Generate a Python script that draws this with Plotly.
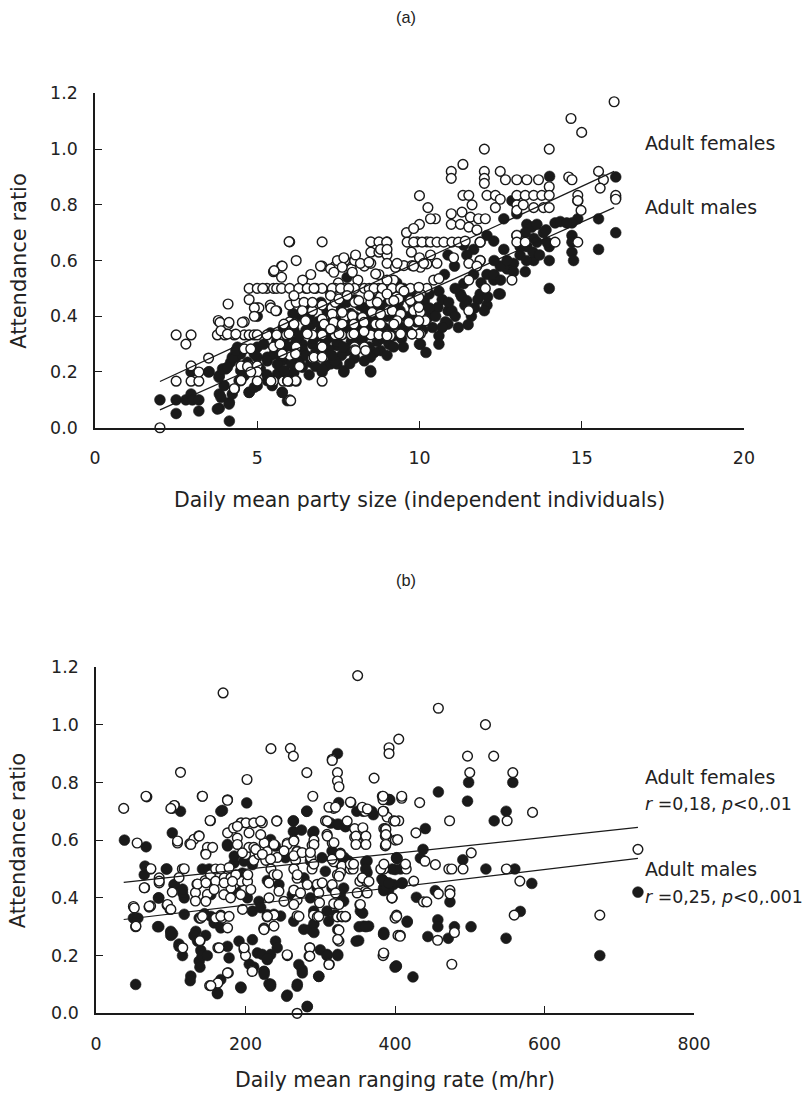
import plotly.graph_objects as go

# ---------------- (a) party size vs attendance ratio ----------------
party_females = [
    (2.0, 0.0), (2.5, 0.333), (2.8, 0.30), (2.96, 0.333), (2.5, 0.167), (2.96, 0.167), (3.2, 0.167),
    (2.96, 0.222), (3.2, 0.2), (3.5, 0.25), (3.8, 0.385), (3.77, 0.333), (4.0, 0.333), (4.29, 0.333),
    (4.6, 0.333), (4.75, 0.333), (4.1, 0.444), (4.1, 0.37), (4.6, 0.38), (4.75, 0.5), (5.0, 0.5),
    (5.05, 0.43), (4.9, 0.333), (5.0, 0.333), (4.5, 0.222), (4.75, 0.222), (5.0, 0.222), (5.0, 0.2),
    (4.3, 0.14), (4.5, 0.17), (5.0, 0.167), (5.3, 0.5), (5.5, 0.5), (5.6, 0.5), (5.75, 0.5), (6.0, 0.5),
    (5.5, 0.56), (5.75, 0.58), (5.75, 0.54), (6.0, 0.667), (6.2, 0.6), (5.4, 0.44), (5.6, 0.42),
    (6.0, 0.44), (6.2, 0.45), (5.3, 0.333), (5.6, 0.333), (5.9, 0.333), (6.0, 0.38), (5.5, 0.29),
    (5.5, 0.167), (5.8, 0.167), (6.0, 0.167), (6.2, 0.167), (6.0, 0.1), (5.7, 0.3), (6.0, 0.26),
    (6.2, 0.29), (6.3, 0.22), (6.5, 0.5), (6.8, 0.5), (7.0, 0.5), (6.4, 0.53), (6.65, 0.55), (7.0, 0.58),
    (7.0, 0.667), (6.7, 0.42), (7.0, 0.44), (7.3, 0.43), (7.0, 0.39), (6.7, 0.333), (7.0, 0.333),
    (7.0, 0.29), (6.7, 0.25), (7.0, 0.167), (7.4, 0.58), (7.5, 0.52), (7.4, 0.5), (7.7, 0.6), (7.9, 0.57),
    (8.0, 0.6), (8.1, 0.53), (8.3, 0.58), (7.7, 0.5), (8.0, 0.5), (8.3, 0.5), (7.4, 0.45), (7.7, 0.4),
    (8.0, 0.45), (7.4, 0.333), (7.6, 0.333), (7.9, 0.333), (8.0, 0.29), (8.3, 0.29), (8.5, 0.667),
    (8.75, 0.667), (9.0, 0.667), (8.5, 0.63), (8.75, 0.63), (9.0, 0.62), (8.5, 0.59), (8.75, 0.55),
    (9.0, 0.59), (8.45, 0.5), (8.75, 0.5), (9.0, 0.5), (8.5, 0.45), (8.8, 0.47), (9.05, 0.42),
    (8.5, 0.333), (8.75, 0.333), (9.0, 0.333), (8.0, 0.28), (9.2, 0.53), (9.3, 0.47),
    (9.93, 0.667), (10.23, 0.667), (9.75, 0.63), (10.0, 0.61), (6.95, 0.58), (7.26, 0.57), (7.47, 0.6),
    (7.67, 0.61), (8.03, 0.62), (8.18, 0.59), (7.36, 0.558), (7.62, 0.576), (7.93, 0.558), (8.44, 0.594),
    (8.65, 0.552), (9.26, 0.576), (9.52, 0.582), (9.77, 0.582), (10.03, 0.576), (10.23, 0.588),
    (6.28, 0.5), (6.54, 0.5), (6.75, 0.5), (7.31, 0.5), (7.57, 0.5), (7.82, 0.5), (8.6, 0.5), (8.85, 0.5),
    (9.16, 0.5), (9.42, 0.5), (9.72, 0.5), (10.03, 0.5), (10.23, 0.5),
    (6.13, 0.474), (6.44, 0.45), (6.7, 0.45), (7.26, 0.474), (7.52, 0.462), (7.77, 0.474), (8.13, 0.456),
    (8.44, 0.474), (8.7, 0.45), (9.1, 0.456), (9.36, 0.462), (9.72, 0.456), (10.03, 0.48),
    (6.39, 0.42), (7.31, 0.408), (7.62, 0.414), (7.93, 0.402), (8.24, 0.396), (8.54, 0.414), (8.8, 0.408),
    (9.16, 0.42), (9.42, 0.408), (9.82, 0.42), (10.03, 0.414),
    (5.82, 0.372), (6.13, 0.372), (6.49, 0.384), (7.06, 0.372), (7.36, 0.378), (7.62, 0.372), (7.98, 0.372),
    (8.29, 0.378), (8.65, 0.372), (9.31, 0.384), (9.67, 0.378), (9.98, 0.384), (10.18, 0.384),
    (5.98, 0.337), (6.54, 0.337), (7.26, 0.354), (7.52, 0.337), (7.98, 0.337), (8.29, 0.345), (9.1, 0.33),
    (9.42, 0.337), (9.77, 0.337), (10.03, 0.337),
    (5.77, 0.265), (6.18, 0.265), (6.75, 0.253), (7.0, 0.253), (8.03, 0.277), (8.34, 0.277), (5.93, 0.169),
    (6.18, 0.169), (6.03, 0.097),
    (16.0, 1.17), (14.67, 1.11), (15.0, 1.06), (12.0, 1.0), (14.0, 1.0), (11.34, 0.945), (10.98, 0.92),
    (10.98, 0.895), (12.0, 0.92), (12.0, 0.895), (12.0, 0.877), (12.49, 0.92), (12.65, 0.89), (13.0, 0.89),
    (13.31, 0.89), (13.67, 0.89), (14.0, 0.865), (14.6, 0.9), (14.7, 0.89), (15.52, 0.92), (15.67, 0.89),
    (15.57, 0.86), (10.0, 0.833), (10.26, 0.79), (10.49, 0.75), (10.34, 0.75), (10.0, 0.73), (9.6, 0.7),
    (9.82, 0.715), (11.34, 0.834), (11.52, 0.834), (11.62, 0.8), (12.08, 0.834), (12.34, 0.834),
    (12.49, 0.82), (13.0, 0.834), (13.26, 0.834), (13.52, 0.834), (13.77, 0.834), (14.0, 0.834),
    (12.34, 0.79), (13.0, 0.8), (13.0, 0.78), (13.2, 0.8), (13.52, 0.79), (13.82, 0.79), (14.0, 0.79),
    (14.88, 0.834), (14.88, 0.815), (14.98, 0.78), (16.05, 0.834), (16.05, 0.82),
    (10.98, 0.768), (11.31, 0.774), (11.57, 0.756), (11.82, 0.75), (12.03, 0.75), (10.98, 0.73),
    (11.26, 0.73), (11.52, 0.72), (11.77, 0.71),
    (9.62, 0.666), (9.82, 0.666), (10.08, 0.666), (10.34, 0.666), (10.54, 0.666), (10.75, 0.666),
    (11.0, 0.666), (11.2, 0.666), (11.41, 0.67), (11.87, 0.666), (13.0, 0.69), (13.0, 0.666),
    (13.26, 0.666), (14.18, 0.666), (14.88, 0.666), (8.99, 0.666), (8.8, 0.64), (9.0, 0.64),
    (10.34, 0.62), (10.54, 0.59), (11.05, 0.61), (11.52, 0.59), (11.87, 0.6), (9.31, 0.59), (9.82, 0.58),
    (10.13, 0.59), (9.98, 0.504), (9.98, 0.468), (9.98, 0.432), (9.98, 0.384), (9.98, 0.336),
    (9.0, 0.53), (9.0, 0.48), (9.21, 0.456), (9.52, 0.49), (10.44, 0.53), (10.6, 0.535), (11.52, 0.53),
    (11.77, 0.58), (12.85, 0.53), (12.03, 0.5), (11.52, 0.42), (9.77, 0.336), (9.21, 0.372),
    (8.8, 0.372), (9.0, 0.33),
    (3.85, 0.378), (4.13, 0.378), (4.54, 0.378), (3.88, 0.348), (4.08, 0.336), (4.34, 0.336),
    (4.75, 0.46), (4.91, 0.43), (4.91, 0.4), (5.42, 0.43), (5.57, 0.42), (5.77, 0.58), (5.52, 0.564),
    (5.98, 0.668), (5.17, 0.5), (4.6, 0.283), (4.8, 0.283), (4.7, 0.22), (4.8, 0.2), (4.29, 0.14),
    (5.42, 0.167), (5.94, 0.167),
]

party_males = [
    (2.0, 0.1), (2.5, 0.1), (2.8, 0.1), (2.96, 0.121), (3.0, 0.1), (3.2, 0.1), (2.5, 0.051), (3.2, 0.06),
    (2.96, 0.2), (3.5, 0.2), (3.83, 0.187), (4.03, 0.211), (4.18, 0.235), (4.34, 0.253), (4.39, 0.289),
    (3.83, 0.121), (4.14, 0.091), (3.83, 0.07), (4.14, 0.024), (3.98, 0.151), (4.44, 0.169),
    (4.75, 0.127), (5.0, 0.151), (4.49, 0.265), (5.0, 0.289), (5.0, 0.253), (4.7, 0.235), (5.0, 0.43),
    (5.0, 0.4), (5.31, 0.253), (5.52, 0.265), (5.77, 0.241), (5.93, 0.277), (5.62, 0.193), (5.77, 0.127),
    (5.93, 0.097), (5.31, 0.169), (5.46, 0.151), (5.83, 0.2), (6.13, 0.2), (6.39, 0.217), (6.65, 0.235),
    (6.9, 0.259), (5.93, 0.33), (6.39, 0.3), (6.13, 0.35), (7.0, 0.2), (7.26, 0.229), (7.46, 0.229),
    (7.67, 0.2), (6.65, 0.37), (6.96, 0.35), (7.21, 0.325), (7.46, 0.295), (7.77, 0.277), (7.77, 0.54),
    (7.57, 0.385), (7.88, 0.41), (8.19, 0.36), (8.39, 0.385), (8.6, 0.337), (8.8, 0.325), (8.5, 0.2),
    (8.8, 0.277), (9.06, 0.3), (8.0, 0.46), (8.3, 0.43), (8.6, 0.46), (6.34, 0.4), (6.65, 0.43),
    (6.96, 0.45), (7.26, 0.48),
    (6.2, 0.31), (6.4, 0.28), (6.5, 0.35), (6.7, 0.3), (6.8, 0.27), (6.9, 0.33), (7.0, 0.36), (7.1, 0.31),
    (7.2, 0.28), (7.3, 0.38), (7.4, 0.33), (7.5, 0.3), (7.6, 0.26), (7.7, 0.34), (7.8, 0.37), (7.9, 0.31),
    (8.0, 0.4), (8.1, 0.33), (8.2, 0.3), (8.3, 0.37), (8.4, 0.42), (8.5, 0.35), (8.6, 0.39), (8.7, 0.31),
    (8.8, 0.44), (8.9, 0.36), (9.0, 0.4), (9.1, 0.45), (9.2, 0.33), (9.3, 0.38), (9.4, 0.42), (9.5, 0.36),
    (9.6, 0.47), (9.7, 0.4), (9.8, 0.44), (9.9, 0.38), (9.2, 0.29), (8.6, 0.27), (8.0, 0.25), (7.4, 0.24),
    (6.8, 0.22), (6.3, 0.24), (6.1, 0.19), (7.1, 0.22), (8.49, 0.205), (8.49, 0.253), (7.0, 0.21),
    (7.67, 0.205), (10.03, 0.3),
    (14.01, 0.902), (16.05, 0.9), (16.05, 0.826), (16.05, 0.7), (15.52, 0.75), (15.52, 0.64),
    (14.88, 0.815), (14.88, 0.75), (14.7, 0.735), (14.7, 0.69), (14.7, 0.666), (14.7, 0.63), (14.75, 0.6),
    (14.18, 0.735), (14.0, 0.65), (14.0, 0.6), (14.0, 0.5), (12.85, 0.815), (13.0, 0.768), (13.31, 0.73),
    (13.46, 0.72), (13.62, 0.73), (13.0, 0.69), (13.26, 0.7), (13.52, 0.68), (13.62, 0.666),
    (13.82, 0.7), (13.93, 0.666), (13.31, 0.65), (13.52, 0.6), (13.26, 0.56), (12.9, 0.59), (12.7, 0.57),
    (12.49, 0.58), (12.44, 0.48), (12.6, 0.75), (12.29, 0.67), (12.08, 0.69), (11.87, 0.666),
    (11.67, 0.64), (11.36, 0.655), (11.46, 0.62), (11.87, 0.6), (12.08, 0.55), (12.29, 0.53),
    (10.88, 0.62), (10.77, 0.55), (11.08, 0.58), (11.36, 0.517), (11.67, 0.55), (11.87, 0.48),
    (12.08, 0.44), (12.49, 0.48), (10.88, 0.42), (10.88, 0.372), (10.57, 0.432), (10.26, 0.396),
    (10.36, 0.408), (10.05, 0.396), (10.15, 0.456), (10.6, 0.49), (11.26, 0.48), (11.46, 0.456),
    (10.0, 0.3), (14.34, 0.74), (14.54, 0.735),
    (10.2, 0.4), (10.4, 0.36), (10.6, 0.33), (10.8, 0.38), (11.0, 0.42), (11.2, 0.36), (11.4, 0.44),
    (11.6, 0.4), (11.8, 0.46), (12.0, 0.42), (10.7, 0.46), (11.1, 0.5), (10.3, 0.48), (9.5, 0.5),
    (9.3, 0.52), (12.3, 0.6), (12.6, 0.64), (13.1, 0.62),
    (3.52, 0.201), (3.82, 0.181), (3.93, 0.211), (4.08, 0.217), (4.23, 0.253), (4.34, 0.277),
    (4.49, 0.205), (4.6, 0.187), (3.88, 0.109), (4.13, 0.085), (3.77, 0.067), (4.23, 0.121),
    (4.75, 0.127), (4.49, 0.169), (4.91, 0.145), (4.91, 0.265), (5.31, 0.24), (5.62, 0.228),
    (5.83, 0.205), (5.42, 0.169), (5.77, 0.127), (5.94, 0.253), (5.83, 0.3),
    (5.2, 0.30), (5.4, 0.34), (5.6, 0.31), (5.8, 0.36), (6.0, 0.29), (6.1, 0.41), (6.3, 0.33), (6.5, 0.26),
    (6.6, 0.40), (6.75, 0.32), (6.85, 0.38), (7.05, 0.27), (7.15, 0.42), (7.35, 0.35), (7.45, 0.31),
    (7.55, 0.43), (7.65, 0.29), (7.75, 0.45), (7.85, 0.35), (7.95, 0.29), (8.05, 0.37), (8.15, 0.44),
    (8.25, 0.32), (8.35, 0.40), (8.45, 0.29), (8.55, 0.43), (8.65, 0.36), (8.75, 0.40), (8.85, 0.32),
    (8.95, 0.47), (9.05, 0.35), (9.15, 0.41), (9.25, 0.37), (9.35, 0.45), (9.45, 0.32), (9.55, 0.40),
    (9.65, 0.35), (9.75, 0.49), (9.85, 0.41), (9.95, 0.45), (10.1, 0.35), (10.3, 0.43), (10.5, 0.40),
    (10.7, 0.36), (10.9, 0.45), (11.1, 0.40), (11.3, 0.47), (11.5, 0.37), (11.7, 0.43), (11.9, 0.52),
    (12.1, 0.47), (12.3, 0.55), (12.5, 0.53), (12.7, 0.60), (12.9, 0.56), (13.1, 0.65), (13.3, 0.60),
    (13.5, 0.63), (13.7, 0.62), (13.9, 0.71), (5.1, 0.21), (5.3, 0.19), (5.7, 0.26), (6.05, 0.23),
    (6.6, 0.19), (7.3, 0.26), (7.85, 0.23), (8.3, 0.24), (9.0, 0.26), (9.5, 0.29), (10.2, 0.27),
    (10.6, 0.30),
]

# least-squares lines drawn over panel (a)
party_fit_x = [2.0, 16.0]
party_fit_females = [0.166, 0.92]
party_fit_males = [0.064, 0.79]

# ---------------- (b) ranging rate vs attendance ratio ----------------
ranging_females = [
    (37, 0.71), (50, 0.37), (53, 0.30), (55, 0.59), (68, 0.75), (65, 0.435), (73, 0.50), (84.5, 0.469),
    (84.5, 0.452), (71, 0.368), (73, 0.372), (95, 0.375), (99, 0.36), (105, 0.72), (109, 0.59),
    (102, 0.71), (113, 0.835), (115.5, 0.50), (111, 0.47), (102, 0.42), (116, 0.227), (125.5, 0.588),
    (131, 0.603), (137.6, 0.615), (135, 0.447), (133, 0.418), (133, 0.389), (139, 0.25), (140, 0.33),
    (142, 0.752), (147, 0.555), (149, 0.575), (156, 0.575), (153, 0.667), (146, 0.46), (153, 0.48),
    (160, 0.50), (167, 0.50), (160, 0.458), (149, 0.412), (167, 0.34), (160, 0.33), (152, 0.096),
    (163, 0.105), (177, 0.14), (163, 0.227), (170, 1.11), (176, 0.74), (176, 0.625), (184, 0.642),
    (189, 0.607), (194, 0.66), (200.6, 0.66), (171.5, 0.469), (180.4, 0.469), (184.9, 0.446),
    (180.4, 0.434), (193.8, 0.457), (202.7, 0.457), (178, 0.505), (187, 0.48), (203, 0.48), (169, 0.33),
    (176, 0.296), (196, 0.36), (200, 0.55), (204.5, 0.575), (211, 0.575), (202, 0.81), (211, 0.66),
    (222.5, 0.66), (198, 0.22), (209, 0.147), (200, 0.2), (211, 0.53), (218, 0.55), (225, 0.59),
    (229, 0.56), (227, 0.53), (234, 0.50), (238, 0.48), (242.5, 0.54), (234, 0.917), (242, 0.667),
    (238, 0.34), (229, 0.334), (225, 0.293), (260, 0.918), (264, 0.891), (256, 0.20), (256, 0.59),
    (264.6, 0.60), (269, 0.56), (267, 0.53), (264.6, 0.50), (269, 0.468), (264.6, 0.427), (269, 0.392),
    (269, 0.338), (269, 0.0), (282, 0.834), (286, 0.227), (285, 0.198), (290, 0.752), (289, 0.582),
    (291.5, 0.60), (289, 0.50), (287, 0.54), (296, 0.447), (299, 0.383), (291, 0.34), (296, 0.334),
    (307, 0.667), (318, 0.71), (309, 0.62), (316, 0.59), (312, 0.17), (316, 0.88), (323, 0.834),
    (323, 0.805), (325, 0.785), (318, 0.525), (323, 0.48), (327, 0.555), (329, 0.51), (327, 0.487),
    (323, 0.334), (329, 0.334), (334, 0.334), (318, 0.38), (325, 0.25), (325, 0.288), (341, 0.73),
    (340, 0.50), (346, 0.64), (346, 0.61), (357, 0.643), (360, 0.61), (350, 1.17), (353, 0.457),
    (344, 0.50), (353, 0.376), (356, 0.71), (360, 0.70), (362, 0.457), (360, 0.422), (372, 0.815),
    (383, 0.752), (385, 0.70), (385, 0.64), (389.5, 0.61), (389.5, 0.68), (385, 0.50), (396, 0.40),
    (385, 0.207), (392, 0.92), (392, 0.90), (400, 0.33), (404, 0.27), (405, 0.95),
    (458, 1.057), (521, 1.0), (497, 0.891), (532, 0.891), (500, 0.834), (557.6, 0.834), (384, 0.74),
    (409, 0.745), (433, 0.73), (384, 0.70), (398, 0.667), (405, 0.667), (387, 0.64), (387, 0.615),
    (400.5, 0.60), (428, 0.625), (473, 0.667), (550, 0.667), (584, 0.696), (502, 0.556), (725, 0.568),
    (387, 0.58), (381, 0.50), (415, 0.50), (425, 0.458), (440, 0.527), (454, 0.515), (472, 0.50),
    (476, 0.50), (491, 0.50), (549, 0.50), (567, 0.458), (396, 0.40), (438, 0.386), (442.5, 0.386),
    (458, 0.414), (473.5, 0.426), (473.5, 0.414), (402, 0.34), (407, 0.27), (457, 0.253), (479.5, 0.28),
    (559.5, 0.34), (384, 0.20), (476, 0.17), (674, 0.34),
    (109, 0.597), (126.8, 0.585), (138, 0.614), (146.9, 0.551), (189.1, 0.648), (189.1, 0.585),
    (204.7, 0.625), (220.3, 0.619), (213.6, 0.568), (195.8, 0.556), (73.4, 0.501), (84.5, 0.458),
    (64.5, 0.435), (118, 0.501), (135.8, 0.448), (147, 0.452), (171.4, 0.452), (182.5, 0.457),
    (51.2, 0.365), (53.4, 0.302), (71.2, 0.371), (95.6, 0.377), (100.1, 0.36), (158, 0.429),
    (171, 0.411), (180, 0.40), (193.6, 0.411), (207, 0.429), (146.9, 0.388), (166.9, 0.336),
    (178, 0.336), (142.4, 0.336), (164.7, 0.227), (198, 0.227), (175.8, 0.14), (153.6, 0.096),
    (138.9, 0.252), (224.7, 0.29), (209, 0.145), (66.8, 0.752), (142.4, 0.752), (175.8, 0.738),
    (104.6, 0.72), (100.1, 0.71), (152.6, 0.668),
    (316, 0.876), (340.4, 0.732), (311.6, 0.714), (320.5, 0.714), (356.2, 0.714), (363, 0.708),
    (384, 0.752), (409, 0.752), (309.4, 0.666), (336, 0.666), (400, 0.666), (220.3, 0.666),
    (241.7, 0.666), (347.7, 0.614), (361, 0.614), (347.7, 0.585), (361, 0.585), (387.8, 0.637),
    (387.8, 0.619), (387.8, 0.585), (403.4, 0.602), (291.5, 0.585), (309.4, 0.614), (318.3, 0.591),
    (255.7, 0.585), (264.6, 0.597), (238, 0.585), (222.5, 0.551), (233.6, 0.534), (251.4, 0.563),
    (264.6, 0.546), (275.7, 0.557), (286.8, 0.557), (291.3, 0.517), (315.7, 0.534), (326.8, 0.551),
    (340.1, 0.517), (344.6, 0.517), (356.2, 0.469), (365.1, 0.457), (385.1, 0.517), (414, 0.517),
    (242.6, 0.48), (269.3, 0.48), (282.6, 0.446), (302.6, 0.452), (316, 0.446), (325, 0.475),
    (231.4, 0.452), (244.7, 0.423), (273.6, 0.417), (298, 0.417), (320.5, 0.417), (349.4, 0.417),
    (362.8, 0.417), (231.4, 0.40), (251.4, 0.388), (264.6, 0.377), (353.6, 0.377), (395.9, 0.40),
    (325, 0.377), (229.2, 0.336), (238, 0.302), (271.5, 0.336), (298, 0.336), (329, 0.336),
    (333.5, 0.336), (402.3, 0.336), (406.8, 0.267), (323.3, 0.256), (255.7, 0.203), (286, 0.227),
    (286, 0.198), (311.6, 0.169), (384.7, 0.209),
]

ranging_males = [
    (53, 0.10), (38, 0.60), (67, 0.577), (64.5, 0.48), (50, 0.33), (56, 0.33), (94, 0.50), (84, 0.40),
    (84, 0.30), (100, 0.284), (111, 0.232), (100, 0.27), (113, 0.70), (102, 0.625), (104.6, 0.446),
    (118, 0.40), (115.7, 0.418), (118, 0.343), (133.5, 0.284), (135.8, 0.25), (140.2, 0.218),
    (138, 0.181), (126.8, 0.129), (142.4, 0.50), (151.3, 0.50), (158, 0.458), (153.6, 0.411),
    (153.6, 0.336), (158, 0.313), (166.9, 0.296), (175.8, 0.232), (178, 0.192), (166.9, 0.117),
    (162.5, 0.071), (193.6, 0.091), (169.1, 0.703), (201.6, 0.729), (175.8, 0.585), (184.7, 0.521),
    (198, 0.527), (195.8, 0.486), (209.2, 0.515), (186.9, 0.429), (202.5, 0.40), (209.2, 0.354),
    (218, 0.388), (229.2, 0.342), (224.7, 0.295), (191.3, 0.25), (209.2, 0.255), (215.9, 0.209),
    (229.2, 0.186), (224.7, 0.145), (231.4, 0.102),
    (323, 0.90), (282, 0.70), (263.9, 0.666), (274.9, 0.635), (289.9, 0.625), (313.8, 0.659),
    (322.7, 0.655), (333.9, 0.647), (391, 0.741), (371, 0.688), (357.3, 0.70), (233.6, 0.602),
    (240.2, 0.579), (253.5, 0.539), (269, 0.562), (286.8, 0.528), (302.3, 0.539), (315.7, 0.562),
    (326.8, 0.516), (337.8, 0.528), (229.2, 0.46), (244.7, 0.446), (262.6, 0.411), (278.2, 0.469),
    (286.8, 0.40), (295.7, 0.434), (306.8, 0.492), (315.7, 0.434), (331.3, 0.434), (362.6, 0.528),
    (362.6, 0.488), (382.5, 0.465), (402.3, 0.539), (400.1, 0.498), (416.3, 0.319), (409.6, 0.452),
    (220.3, 0.366), (238, 0.343), (246.9, 0.337), (264.6, 0.319), (277.9, 0.291), (286.8, 0.291),
    (291.3, 0.354), (309.1, 0.354), (311.3, 0.319), (320.2, 0.342), (326.8, 0.411), (331.3, 0.388),
    (353.6, 0.354), (358, 0.302), (364.7, 0.302), (384.7, 0.434), (222.5, 0.204), (233.6, 0.204),
    (240.2, 0.25), (242.4, 0.227), (271.3, 0.169), (275.7, 0.151), (298, 0.128), (309.1, 0.204),
    (323.3, 0.204), (323.3, 0.29), (351.4, 0.252), (384.7, 0.275), (401.6, 0.164), (233.6, 0.101),
    (269.3, 0.101), (255.9, 0.063), (282.6, 0.024), (224.7, 0.145),
    (65.5, 0.51), (94.8, 0.50), (82.4, 0.30), (100.2, 0.28), (102.4, 0.276), (83.5, 0.40), (104.5, 0.445),
    (115.7, 0.43), (111, 0.24), (115.7, 0.20), (126, 0.113), (139, 0.16), (142, 0.20), (148.8, 0.20),
    (146.6, 0.27), (131, 0.27), (138, 0.33), (145, 0.345), (162.5, 0.068), (167, 0.70), (176, 0.58),
    (185, 0.545), (194, 0.088), (205, 0.17), (211, 0.16), (225, 0.135), (229, 0.19), (233.6, 0.094),
    (255, 0.059), (264, 0.667), (264, 0.63), (269, 0.094), (276, 0.14), (282, 0.70), (291.5, 0.63),
    (282.5, 0.023), (291.5, 0.31), (291.5, 0.28), (298, 0.128), (300, 0.22), (309, 0.20),
    (324.7, 0.73), (324.7, 0.655), (333.5, 0.647), (323.3, 0.20), (332, 0.54), (348.9, 0.70),
    (348, 0.25), (352, 0.30), (361, 0.30), (356.7, 0.347), (360.8, 0.523), (360.8, 0.50), (369, 0.70),
    (392, 0.74), (385, 0.457), (398, 0.446), (391.6, 0.428), (385, 0.425), (385, 0.28), (400, 0.16),
    (402, 0.538),
    (458, 0.767), (498.5, 0.80), (557.6, 0.80), (497, 0.735), (548.7, 0.70), (532.7, 0.667),
    (440.6, 0.64), (393, 0.74), (437.5, 0.568), (402.8, 0.536), (433.9, 0.538), (490.7, 0.532),
    (396.1, 0.50), (407.2, 0.50), (521.6, 0.50), (560.3, 0.50), (583, 0.45), (385, 0.458),
    (391.6, 0.452), (409.4, 0.45), (428.6, 0.402), (453.9, 0.425), (473.5, 0.386), (567.6, 0.353),
    (385, 0.273), (416.3, 0.316), (443.9, 0.266), (457.3, 0.324), (457.3, 0.30), (479.5, 0.30),
    (501.7, 0.30), (471.3, 0.26), (548.6, 0.26), (401.8, 0.163), (424, 0.126), (674, 0.20), (725, 0.42),
]

ranging_fit_x = [37, 725]
ranging_fit_females = [0.454, 0.644]
ranging_fit_males = [0.325, 0.537]

panel_titles = ["(a)", "(b)"]
y_title = "Attendance ratio"
x_titles = ["Daily mean party size (independent individuals)", "Daily mean ranging rate (m/hr)"]
y_ticks = [0.0, 0.2, 0.4, 0.6, 0.8, 1.0, 1.2]
party_ticks = [0, 5, 10, 15, 20]
ranging_ticks = [0, 200, 400, 600, 800]

# ---------------- figure ----------------
# Layout is planned on an 812x1097 sheet; the figure canvas is a little larger
# and every planned position/size goes through the same linear map.
AX, BX = 0.974, 4.8     # horizontal scale / offset of the sheet on the canvas
AY, BY = 0.981, 9.7     # vertical scale / offset
S = 2.0 / (AX + AY)     # size factor for fonts, markers and strokes
W, H = 830, 1110
INK = "#1a1a1a"
FONT = "DejaVu Sans"


def px_x(p):
    return ((p - BX) / AX) / W


def px_y(p):
    return 1 - ((p - BY) / AY) / H


def xs(pairs):
    return [p[0] for p in pairs]


def ys(pairs):
    return [p[1] for p in pairs]


fig = go.Figure()

open_marker = dict(symbol="circle", size=9.5 * S, color="white", line=dict(color=INK, width=1.4 * S))
solid_marker = dict(symbol="circle", size=10.5 * S, color=INK, line=dict(color=INK, width=0.6 * S))

for xa, ya, fem, mal, fx, ff, fm in [
    ("x", "y", party_females, party_males, party_fit_x, party_fit_females, party_fit_males),
    ("x2", "y2", ranging_females, ranging_males, ranging_fit_x, ranging_fit_females, ranging_fit_males),
]:
    fig.add_trace(go.Scatter(x=xs(mal), y=ys(mal), mode="markers", marker=solid_marker,
                             xaxis=xa, yaxis=ya, cliponaxis=False, name="Adult males"))
    fig.add_trace(go.Scatter(x=xs(fem), y=ys(fem), mode="markers", marker=open_marker,
                             xaxis=xa, yaxis=ya, cliponaxis=False, name="Adult females"))
    fig.add_trace(go.Scatter(x=fx, y=ff, mode="lines", line=dict(color=INK, width=1.2 * S),
                             xaxis=xa, yaxis=ya, cliponaxis=False, hoverinfo="skip"))
    fig.add_trace(go.Scatter(x=fx, y=fm, mode="lines", line=dict(color=INK, width=1.2 * S),
                             xaxis=xa, yaxis=ya, cliponaxis=False, hoverinfo="skip"))

axis_common = dict(
    showline=True, linecolor=INK, linewidth=1.6 * S, ticks="inside", ticklen=round(7 * S),
    tickwidth=1.4 * S, tickcolor=INK, showgrid=False, zeroline=False,
    tickfont=dict(family=FONT, size=17 * S, color="#222"), fixedrange=True,
)

fig.update_layout(
    width=W, height=H, margin=dict(l=0, r=0, t=0, b=0, pad=0),
    paper_bgcolor="white", plot_bgcolor="white", showlegend=False,
    xaxis=dict(axis_common, domain=[px_x(94), px_x(744)], range=[0, 20], tickvals=party_ticks,
               anchor="y", ticklabelstandoff=round(14 * S)),
    yaxis=dict(axis_common, domain=[px_y(427), px_y(93)], range=[0, 1.2], tickvals=y_ticks,
               tickformat=".1f", anchor="x", ticklabelstandoff=round(12 * S)),
    xaxis2=dict(axis_common, domain=[px_x(95), px_x(694)], range=[0, 800], tickvals=ranging_ticks,
                anchor="y2", ticklabelstandoff=round(14 * S)),
    yaxis2=dict(axis_common, domain=[px_y(1012), px_y(666)], range=[0, 1.2], tickvals=y_ticks,
                tickformat=".1f", anchor="x2", ticklabelstandoff=round(12 * S)),
)

notes = []


def note(text, x, y, size, xanchor="center", angle=0, family=FONT):
    notes.append(dict(text=text, x=px_x(x), y=px_y(y), xref="paper", yref="paper",
                      xanchor=xanchor, yanchor="middle", showarrow=False, textangle=angle,
                      font=dict(family=family, size=size * S, color="#222")))


note(panel_titles[0], 406, 17, 16, family="Liberation Sans")
note(panel_titles[1], 406, 579, 16, family="Liberation Sans")
note(y_title, 17, 260, 20.5, angle=-90)
note(y_title, 17, 839, 20.5, angle=-90)
note(x_titles[0], 419, 499, 20)
note(x_titles[1], 394, 1079, 20)
note("Adult females", 643, 143, 18.5, xanchor="left")
note("Adult males", 643, 207, 18.5, xanchor="left")
note("Adult females", 643, 776, 18.5, xanchor="left")
note("<i>r</i> =0,18, <i>p</i>&lt;0,.01", 643, 803, 17, xanchor="left")
note("Adult males", 643, 868, 18.5, xanchor="left")
note("<i>r</i> =0,25, <i>p</i>&lt;0,.001", 643, 896, 17, xanchor="left")

fig.update_layout(annotations=notes)
fig.write_html("out.html")
